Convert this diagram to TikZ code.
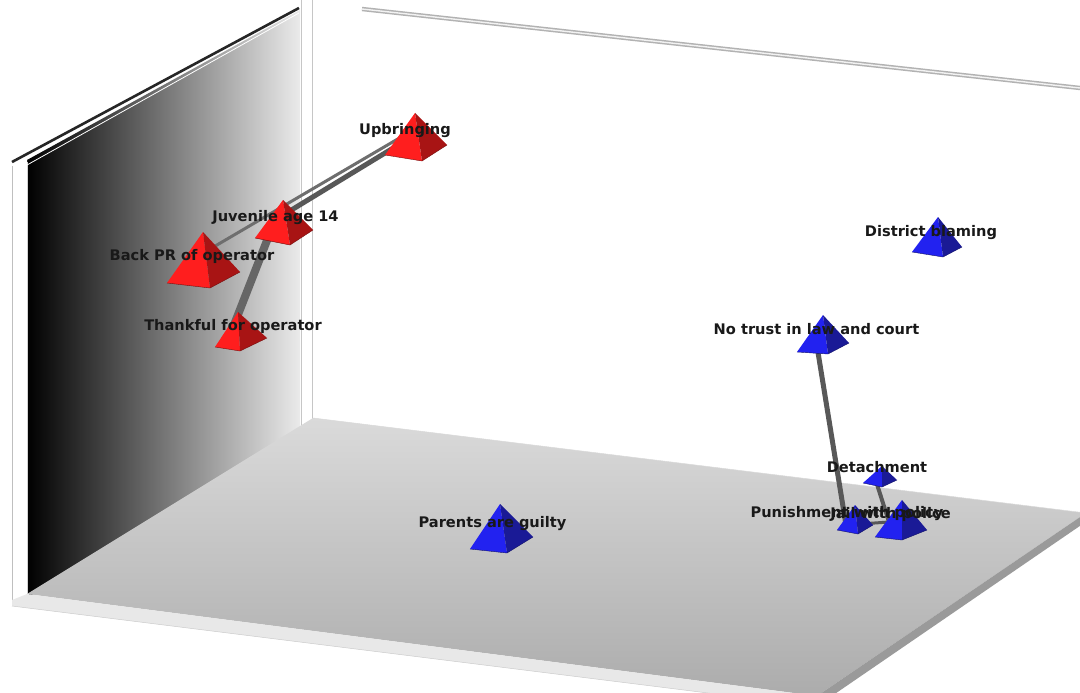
\documentclass[tikz,border=0pt]{standalone}
\usepackage{fontspec}
\setmainfont{DejaVu Sans}
\definecolor{redL}{HTML}{FF1E1E}
\definecolor{redR}{HTML}{A81414}
\definecolor{blueL}{HTML}{2222F0}
\definecolor{blueR}{HTML}{1A1A96}
\definecolor{linkgray}{HTML}{585858}
\definecolor{linklight}{HTML}{6E6E6E}
\definecolor{floorTop}{HTML}{DADADA}
\definecolor{floorBot}{HTML}{ACACAC}
\definecolor{edgeLight}{HTML}{E8E8E8}
\definecolor{edgeSide}{HTML}{9A9A9A}
% a square pyramid seen from above: apex, left, front and right base corners,
% lit face colour, shaded face colour
\newcommand\pyr[6]{%
  \fill[#5] #1--#2--#3--cycle;
  \fill[#6] #1--#3--#4--cycle;
  \draw[#6!70!black, line width=.4, line join=round] #2--#3--#4;
}
\begin{document}
\begin{tikzpicture}[x=1pt,y=-1pt,
  lbl/.style={font=\bfseries\fontsize{14.6}{16}\selectfont, text=black!90,
              anchor=base, inner sep=0pt},
  link/.style={draw=linkgray, line cap=round},
  thinlink/.style={draw=linklight, line cap=round}]
\useasboundingbox (0,0) rectangle (1080,693);
\fill[white] (0,0) rectangle (1080,693);

% ---- back wall edge and top rim
\fill[white] (300,0) rectangle (313,428);
\draw[gray!45, line width=.9] (301,0)--(301,430);
\draw[gray!45, line width=.9] (312,0)--(312,420);
\draw[gray!60, line width=4.4] (362,9)--(1080,88);
\draw[white!90!gray, line width=1.4] (362,9)--(1080,88);

% ---- left wall
\shade[left color=black, right color=black!8]
  (27,160)--(300,10)--(300,432)--(27,598)--cycle;
\fill[white] (12,166)--(27,160)--(27,600)--(12,605)--cycle;
\draw[gray!50, line width=.8] (12,166)--(12,605);
\draw[gray!35, line width=.6] (27,162)--(27,598);
\draw[black!85, line width=2.6] (12,162)--(299,8);
\draw[white, line width=.8] (27,165)--(299,13);

% ---- floor
\shade[top color=floorTop, bottom color=floorBot]
  (27,594)--(313,418)--(1086,513)--(817,696)--cycle;
\fill[edgeLight] (12,600)--(27,594)--(817,696)--(812,706)--(12,606)--cycle;
\draw[gray!40, line width=.5] (12,606)--(812,706);
\fill[edgeSide] (1086,513)--(1090,519)--(826,700)--(817,696)--cycle;
\draw[gray!30, line width=.5] (313,418)--(1086,513);

% ---- connector end points
\coordinate (cU1) at (408,133);
\coordinate (cU2) at (408,139);
\coordinate (cJ) at (275,220);
\coordinate (cB) at (205,252);
\coordinate (cT) at (232,330);
\coordinate (cN) at (816,340);
\coordinate (cP) at (846,525);
\coordinate (cD) at (875,478);
\coordinate (cL) at (889,522);

% ---- connectors
\draw[thinlink, line width=3] (cU1)--(cB);
\draw[link, line width=5] (cU2)--(cJ);
\draw[link, line width=8, draw=black!60] (cJ)--(cT);
\draw[link, line width=5] (cN)--(cP);
\draw[link, line width=4] (cD)--(cL);
\draw[link, line width=3] (cP)--(cL);

% ---- red pyramids
\pyr{(415,113)}{(385,155)}{(422,161)}{(447,145)}{redL}{redR}
\pyr{(283,200)}{(255,238)}{(290,245)}{(313,230)}{redL}{redR}
\pyr{(203,232)}{(167,283)}{(210,288)}{(240,272)}{redL}{redR}
\pyr{(238,312)}{(215,347)}{(240,351)}{(267,338)}{redL}{redR}

% ---- blue pyramids
\pyr{(938,217)}{(912,252)}{(943,257)}{(962,247)}{blueL}{blueR}
\pyr{(823,315)}{(797,352)}{(828,354)}{(849,343)}{blueL}{blueR}
\pyr{(500,504)}{(470,549)}{(507,553)}{(533,537)}{blueL}{blueR}
\pyr{(882,466)}{(863,483)}{(882,487)}{(897,480)}{blueL}{blueR}
\pyr{(855,505)}{(837,530)}{(858,534)}{(873,525)}{blueL}{blueR}
\pyr{(902,500)}{(875,537)}{(902,540)}{(927,530)}{blueL}{blueR}

% ---- labels
\node[lbl] (upb)  at (405,135) {Upbringing};
\node[lbl] (juv)  at (275.5,221) {Juvenile age 14};
\node[lbl] (bpr)  at (192,260) {Back PR of operator};
\node[lbl] (thk)  at (233,330) {Thankful for operator};
\node[lbl] (dst)  at (931,236) {District blaming};
\node[lbl] (ntr)  at (816.5,334) {No trust in law and court};
\node[lbl] (det)  at (877,472) {Detachment};
\node[lbl] (par)  at (492.5,527) {Parents are guilty};
\node[lbl] (pun)  at (847,517) {Punishment with policy};
\node[lbl] (jail) at (890.5,518) {Jail with police};
\end{tikzpicture}
\end{document}
